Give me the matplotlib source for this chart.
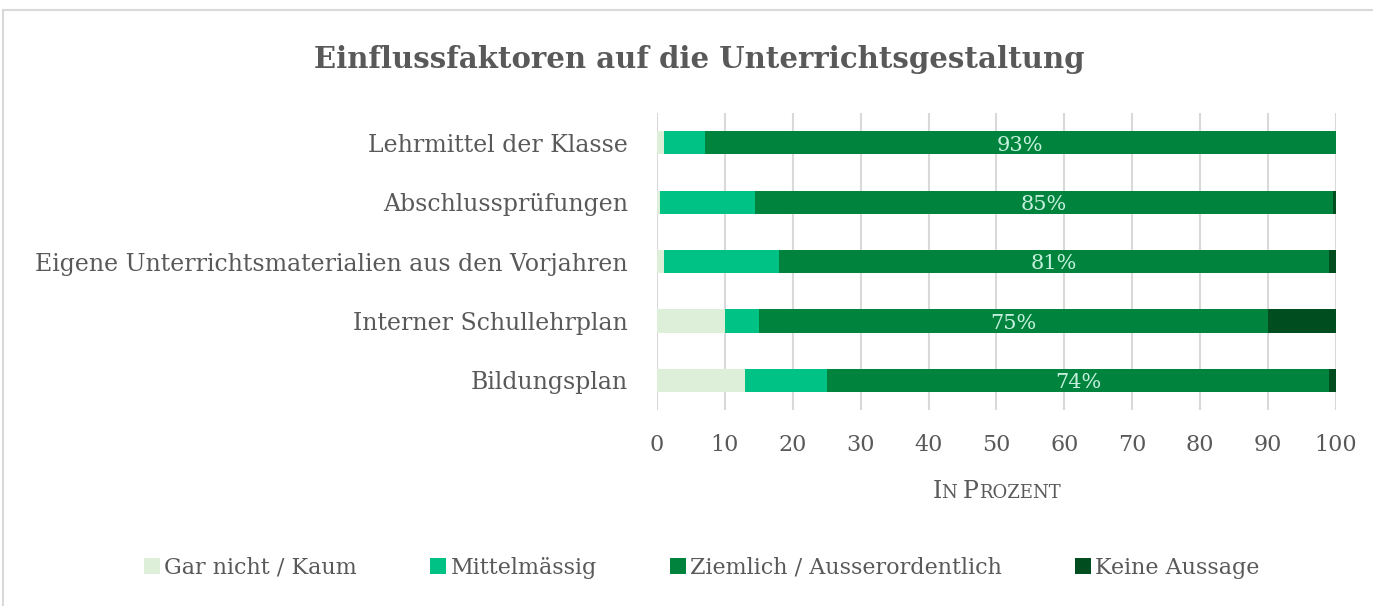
import matplotlib.pyplot as plt
import numpy as np
from matplotlib.offsetbox import TextArea, HPacker, AnnotationBbox
from matplotlib.patches import Rectangle

plt.rcParams['font.family'] = ['DejaVu Serif']

categories = ["Lehrmittel der Klasse", "Abschlussprüfungen",
              "Eigene Unterrichtsmaterialien aus den Vorjahren",
              "Interner Schullehrplan", "Bildungsplan"]
gar_nicht = [1, 0.5, 1, 10, 13]
mittel = [6, 14, 17, 5, 12]
ziemlich = [93, 85, 81, 75, 74]
keine = [0, 0.5, 1, 10, 1]
series_names = ["Gar nicht / Kaum", "Mittelmässig",
                "Ziemlich / Ausserordentlich", "Keine Aussage"]
colors = ["#DDEFD9", "#00C285", "#00843D", "#004D20"]
text_col = "#595959"

fig = plt.figure(figsize=(13.73, 6.06), dpi=100)
ax = fig.add_axes([0.4785, 0.3234, 0.4945, 0.4901])

y = np.arange(len(categories))
left = np.zeros(len(categories))
for vals, name, c in zip([gar_nicht, mittel, ziemlich, keine], series_names, colors):
    ax.barh(y, vals, left=left, height=0.39, color=c, label=name, zorder=3)
    if name.startswith("Ziemlich"):
        for yi, l, v in zip(y, left, vals):
            ax.text(l + v / 2, yi + 0.04, "%d%%" % v, ha="center", va="center",
                    color="#C6F0DD", fontsize=15, zorder=4)
    left = left + np.array(vals)

ax.set_xlim(0, 100)
ax.set_ylim(len(categories) - 0.5, -0.5)
ax.set_xticks(np.arange(0, 101, 10))
ax.set_yticks(y)
ax.set_yticklabels(categories)
ax.tick_params(axis="x", length=0, labelsize=16, colors=text_col, pad=17)
ax.tick_params(axis="y", length=0, labelsize=17, colors=text_col, pad=21)
ax.grid(axis="x", color="#D9D9D9", linewidth=1.5, zorder=0)
for s in ax.spines.values():
    s.set_visible(False)

# small caps axis title
parts = [("I", 17), ("N ", 13), ("P", 17), ("ROZENT", 13)]
box = HPacker(children=[TextArea(t, textprops=dict(size=s, color=text_col)) for t, s in parts],
              align="baseline", pad=0, sep=0)
ab = AnnotationBbox(box, (996.5 / 1373, 1 - 492 / 606), xycoords="figure fraction",
                    frameon=False, box_alignment=(0.5, 0.5))
fig.add_artist(ab)

fig.text(699 / 1373, 1 - 60 / 606, "Einflussfaktoren auf die Unterrichtsgestaltung",
         ha="center", va="center", fontsize=21, fontweight="bold", color=text_col)

leg = fig.legend(loc="center", bbox_to_anchor=(702 / 1373, 1 - 568 / 606), ncol=4,
                 frameon=False, fontsize=16, handlelength=0.7, handleheight=0.7,
                 columnspacing=3.3, handletextpad=0.2)
for t in leg.get_texts():
    t.set_color(text_col)

# chart frame border
fig.add_artist(Rectangle((3 / 1373, -0.1), 1.2, 1 - 10 / 606 + 0.1, transform=fig.transFigure,
                         fill=False, edgecolor="#D9D9D9", linewidth=1.5))

fig.savefig("out.png", dpi=100)
